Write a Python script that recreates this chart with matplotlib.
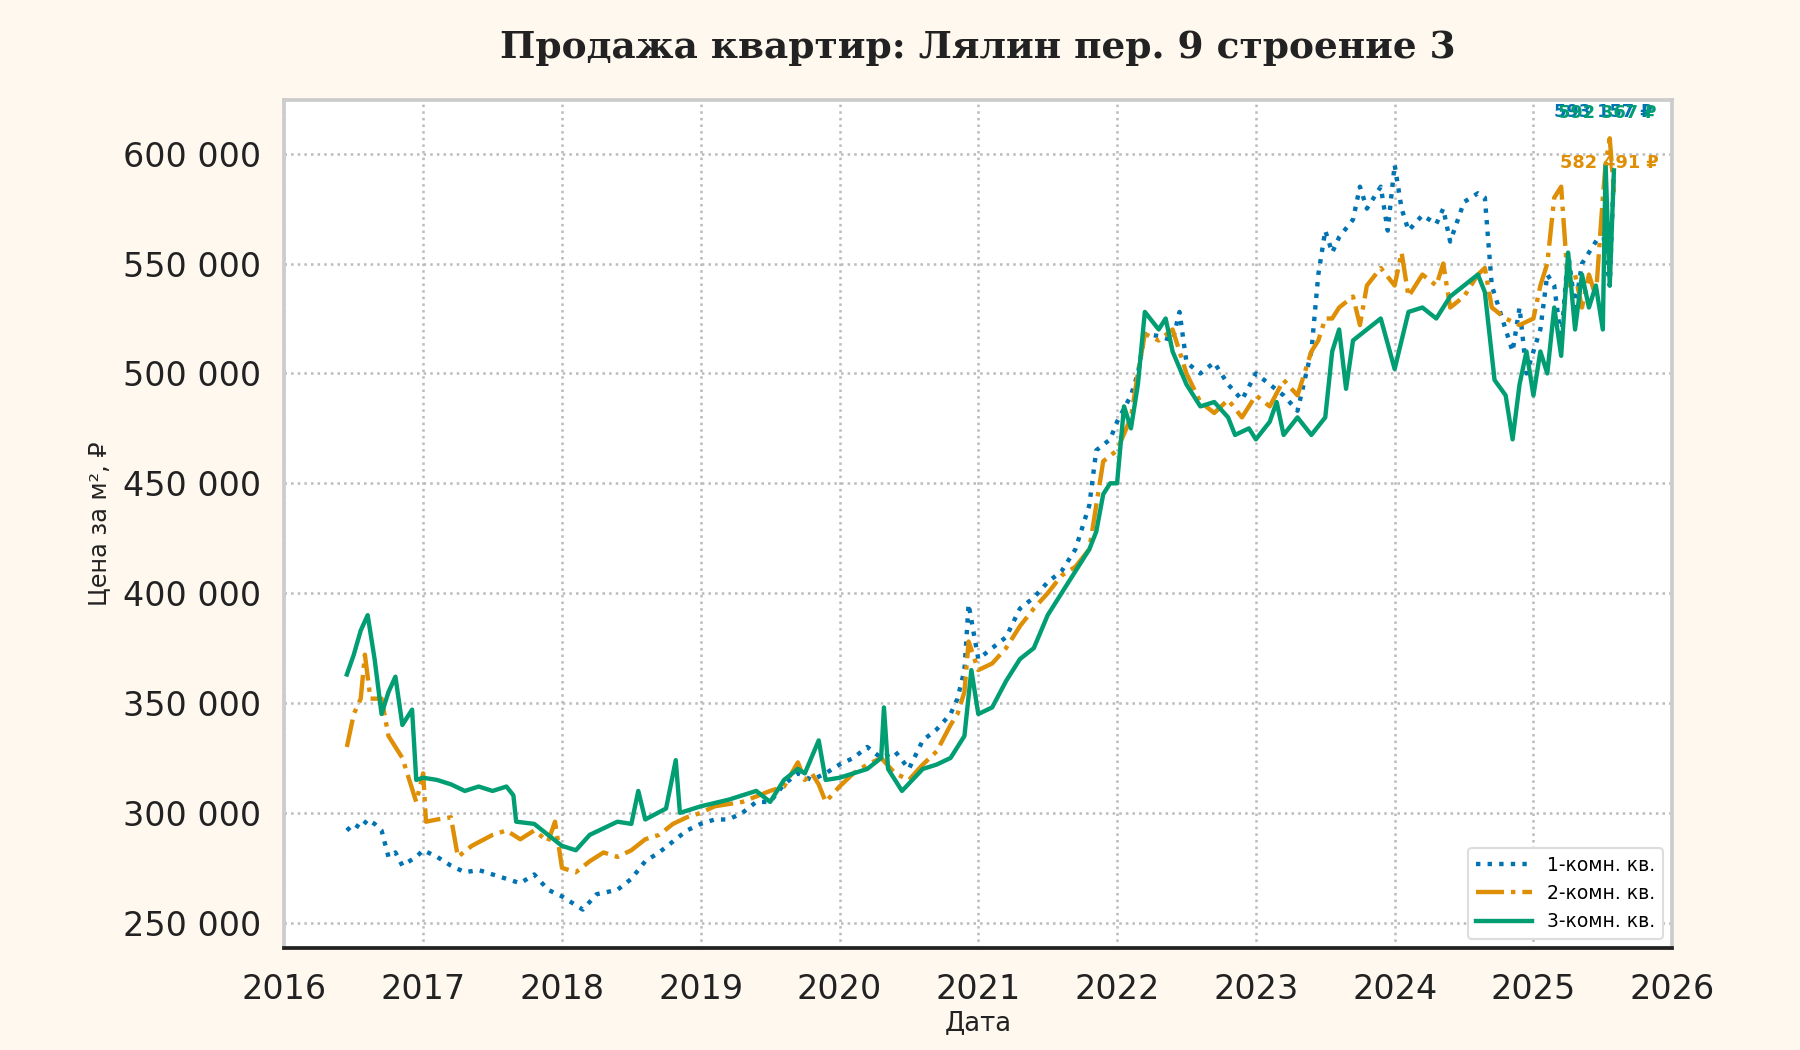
import matplotlib
matplotlib.use("Agg")
import matplotlib.pyplot as plt
from matplotlib.ticker import FuncFormatter, MultipleLocator

# Data (decimal years)
years_1 = [2016.45, 2016.5, 2016.55, 2016.6, 2016.65, 2016.7, 2016.75, 2016.8, 2016.85, 2016.9, 2016.95,
           2017.0, 2017.1, 2017.2, 2017.3, 2017.4, 2017.5, 2017.6, 2017.7, 2017.8, 2017.9,
           2018.0, 2018.1, 2018.15, 2018.25, 2018.4, 2018.5, 2018.6, 2018.7, 2018.8, 2018.9,
           2019.0, 2019.1, 2019.2, 2019.3, 2019.4, 2019.5, 2019.6, 2019.7, 2019.8, 2019.9,
           2020.0, 2020.1, 2020.2, 2020.3, 2020.4, 2020.5, 2020.6, 2020.7, 2020.8, 2020.85, 2020.9, 2020.93,
           2021.0, 2021.1, 2021.2, 2021.3, 2021.4, 2021.5, 2021.6, 2021.7, 2021.8, 2021.85, 2021.95,
           2022.0, 2022.1, 2022.15, 2022.2, 2022.3, 2022.4, 2022.45, 2022.5, 2022.6, 2022.7, 2022.8, 2022.9,
           2023.0, 2023.1, 2023.2, 2023.3, 2023.4, 2023.45, 2023.5, 2023.55, 2023.6, 2023.7, 2023.75, 2023.8,
           2023.9, 2023.95, 2024.0, 2024.05, 2024.1, 2024.2, 2024.3, 2024.35, 2024.4, 2024.5, 2024.6, 2024.65,
           2024.7, 2024.8, 2024.85, 2024.9, 2024.95, 2025.0, 2025.05, 2025.1, 2025.15, 2025.2, 2025.25, 2025.3,
           2025.35, 2025.4, 2025.45, 2025.5, 2025.55, 2025.58]
price_1 = [292000, 295000, 293000, 297000, 295000, 292000, 280000, 282000, 276000, 278000, 280000,
           283000, 280000, 276000, 273000, 274000, 272000, 270000, 268000, 272000, 265000,
           262000, 258000, 256000, 263000, 265000, 270000, 278000, 282000, 287000, 292000,
           295000, 297000, 297000, 300000, 305000, 305000, 313000, 318000, 315000, 318000,
           322000, 325000, 330000, 325000, 328000, 320000, 333000, 338000, 345000, 352000, 365000, 395000,
           370000, 375000, 380000, 393000, 398000, 405000, 410000, 420000, 440000, 465000, 470000,
           478000, 490000, 500000, 518000, 517000, 515000, 528000, 505000, 500000, 505000, 495000, 488000,
           500000, 495000, 490000, 483000, 510000, 545000, 565000, 555000, 562000, 570000, 585000, 575000,
           585000, 565000, 595000, 575000, 565000, 572000, 568000, 575000, 560000, 578000, 582000, 580000,
           540000, 520000, 510000, 530000, 500000, 510000, 520000, 545000, 540000, 515000, 555000, 530000,
           550000, 555000, 560000, 565000, 540000, 593157]

years_2 = [2016.45, 2016.5, 2016.55, 2016.58, 2016.62, 2016.7, 2016.75, 2016.85, 2016.9, 2016.95,
           2017.0, 2017.02, 2017.1, 2017.2, 2017.25, 2017.35, 2017.5, 2017.6, 2017.7, 2017.8, 2017.9, 2017.95,
           2018.0, 2018.1, 2018.2, 2018.3, 2018.4, 2018.5, 2018.6, 2018.7, 2018.8, 2018.9,
           2019.0, 2019.1, 2019.3, 2019.5, 2019.6, 2019.7, 2019.75, 2019.8, 2019.85, 2019.9,
           2020.0, 2020.1, 2020.2, 2020.3, 2020.4, 2020.5, 2020.6, 2020.7, 2020.8, 2020.85, 2020.9, 2020.93,
           2021.0, 2021.1, 2021.2, 2021.3, 2021.4, 2021.5, 2021.6, 2021.7, 2021.8, 2021.9,
           2022.0, 2022.1, 2022.15, 2022.2, 2022.3, 2022.4, 2022.5, 2022.6, 2022.7, 2022.8, 2022.9,
           2023.0, 2023.1, 2023.2, 2023.3, 2023.4, 2023.45, 2023.5, 2023.55, 2023.6, 2023.7, 2023.75, 2023.8,
           2023.9, 2024.0, 2024.05, 2024.1, 2024.2, 2024.3, 2024.35, 2024.4, 2024.5, 2024.6, 2024.65,
           2024.7, 2024.8, 2024.9, 2025.0, 2025.05, 2025.1, 2025.15, 2025.2, 2025.25, 2025.3,
           2025.35, 2025.4, 2025.45, 2025.5, 2025.52, 2025.55, 2025.58]
price_2 = [330000, 345000, 352000, 372000, 352000, 352000, 335000, 325000, 315000, 305000,
           318000, 296000, 297000, 298000, 280000, 285000, 290000, 292000, 288000, 292000, 287000, 296000,
           275000, 273000, 278000, 282000, 280000, 283000, 288000, 290000, 295000, 298000,
           300000, 303000, 305000, 310000, 312000, 323000, 315000, 318000, 313000, 305000,
           312000, 318000, 322000, 325000, 318000, 315000, 322000, 328000, 340000, 345000, 355000, 378000,
           365000, 368000, 375000, 385000, 393000, 400000, 408000, 412000, 420000, 460000,
           465000, 480000, 500000, 518000, 515000, 520000, 500000, 487000, 482000, 488000, 480000,
           490000, 485000, 497000, 490000, 510000, 515000, 525000, 525000, 530000, 535000, 522000, 540000,
           548000, 540000, 555000, 535000, 545000, 540000, 550000, 530000, 535000, 545000, 548000,
           530000, 525000, 522000, 525000, 540000, 550000, 580000, 585000, 540000, 545000,
           530000, 545000, 535000, 580000, 595000, 607000, 582491]

years_3 = [2016.45, 2016.5, 2016.55, 2016.6, 2016.65, 2016.7, 2016.75, 2016.8, 2016.85, 2016.92, 2016.95,
           2017.0, 2017.1, 2017.2, 2017.3, 2017.4, 2017.5, 2017.6, 2017.65, 2017.67, 2017.8, 2017.9,
           2018.0, 2018.1, 2018.2, 2018.4, 2018.5, 2018.55, 2018.6, 2018.75, 2018.82, 2018.85,
           2019.0, 2019.2, 2019.4, 2019.5, 2019.6, 2019.7, 2019.75, 2019.85, 2019.9,
           2020.0, 2020.1, 2020.2, 2020.3, 2020.32, 2020.35, 2020.45, 2020.6, 2020.7, 2020.8, 2020.9, 2020.95,
           2021.0, 2021.1, 2021.2, 2021.3, 2021.4, 2021.5, 2021.6, 2021.7, 2021.8, 2021.85, 2021.9, 2021.95,
           2022.0, 2022.05, 2022.1, 2022.15, 2022.2, 2022.3, 2022.35, 2022.4, 2022.5, 2022.6, 2022.7, 2022.8,
           2022.85, 2022.95, 2023.0, 2023.1, 2023.15, 2023.2, 2023.3, 2023.4, 2023.5, 2023.55, 2023.6, 2023.65,
           2023.7, 2023.8, 2023.9, 2024.0, 2024.05, 2024.1, 2024.2, 2024.3, 2024.4, 2024.5, 2024.6, 2024.65,
           2024.72, 2024.8, 2024.85, 2024.9, 2024.95, 2025.0, 2025.05, 2025.1, 2025.15, 2025.2, 2025.25,
           2025.3, 2025.35, 2025.4, 2025.45, 2025.5, 2025.52, 2025.55, 2025.58]
price_3 = [363000, 372000, 383000, 390000, 370000, 345000, 355000, 362000, 340000, 347000, 315000,
           316000, 315000, 313000, 310000, 312000, 310000, 312000, 308000, 296000, 295000, 290000,
           285000, 283000, 290000, 296000, 295000, 310000, 297000, 302000, 324000, 300000,
           303000, 306000, 310000, 305000, 315000, 320000, 318000, 333000, 315000,
           316000, 318000, 320000, 325000, 348000, 320000, 310000, 320000, 322000, 325000, 335000, 365000,
           345000, 348000, 360000, 370000, 375000, 390000, 400000, 410000, 420000, 428000, 445000, 450000,
           450000, 485000, 475000, 495000, 528000, 520000, 525000, 510000, 495000, 485000, 487000, 480000,
           472000, 475000, 470000, 478000, 487000, 472000, 480000, 472000, 480000, 510000, 520000, 493000,
           515000, 520000, 525000, 502000, 515000, 528000, 530000, 525000, 535000, 540000, 545000, 537000,
           497000, 490000, 470000, 495000, 510000, 490000, 510000, 500000, 530000, 508000, 555000,
           520000, 545000, 530000, 540000, 520000, 595000, 540000, 592367]

labels = ["1-комн. кв.", "2-комн. кв.", "3-комн. кв."]
colors = ["#0173b2", "#de8f05", "#029e73"]
styles = [":", "-.", "-"]

fig = plt.figure(figsize=(12, 7), dpi=150, facecolor="#fff8ef")
ax = fig.add_axes([0.158, 0.097, 0.771, 0.808])
ax.set_facecolor("white")

series = [(years_1, price_1), (years_2, price_2), (years_3, price_3)]
for (x, y), lab, col, ls in zip(series, labels, colors, styles):
    ax.plot(x, y, linestyle=ls, color=col, linewidth=2.1, label=lab)

# last-value labels
offsets = [(-5, 27), (-2, 14), (-3, 27.5)]
for (x, y), col, off in zip(series, colors, offsets):
    txt = f"{y[-1]:,}".replace(",", " ") + " ₽"
    ax.annotate(txt, xy=(x[-1], y[-1]), xytext=off, textcoords="offset points",
                ha="center", va="center", color=col, fontsize=8.5, fontweight="bold")

ax.set_xlim(2016, 2026)
ax.xaxis.set_major_locator(MultipleLocator(1))
ax.xaxis.set_major_formatter(FuncFormatter(lambda v, p: f"{int(v)}"))
ax.yaxis.set_major_locator(MultipleLocator(50000))
ax.yaxis.set_major_formatter(FuncFormatter(lambda v, p: f"{int(v):,}".replace(",", " ")))

ax.grid(True, linestyle=":", color="#bbbbbb", linewidth=1.2)
ax.tick_params(axis="both", labelsize=16, length=0, colors="#222222")
ax.tick_params(axis="x", pad=12)
ax.tick_params(axis="y", pad=11)

for side in ["left", "top", "right"]:
    ax.spines[side].set_color("#cccccc")
    ax.spines[side].set_linewidth(1.8)
ax.spines["bottom"].set_color("#222222")
ax.spines["bottom"].set_linewidth(1.8)

ax.set_xlabel("Дата", fontsize=12.5, color="#222222", labelpad=2)
ax.set_ylabel("Цена за м², ₽", fontsize=11.5, color="#222222", labelpad=6)
ax.set_title("Продажа квартир: Лялин пер. 9 строение 3", fontsize=18, fontweight="bold",
             family="DejaVu Serif", color="#222222", pad=20)

leg = ax.legend(loc="lower right", fontsize=9, frameon=True, framealpha=1,
                edgecolor="#dddddd", handlelength=3)

fig.savefig("out.png", dpi=150, facecolor=fig.get_facecolor())
